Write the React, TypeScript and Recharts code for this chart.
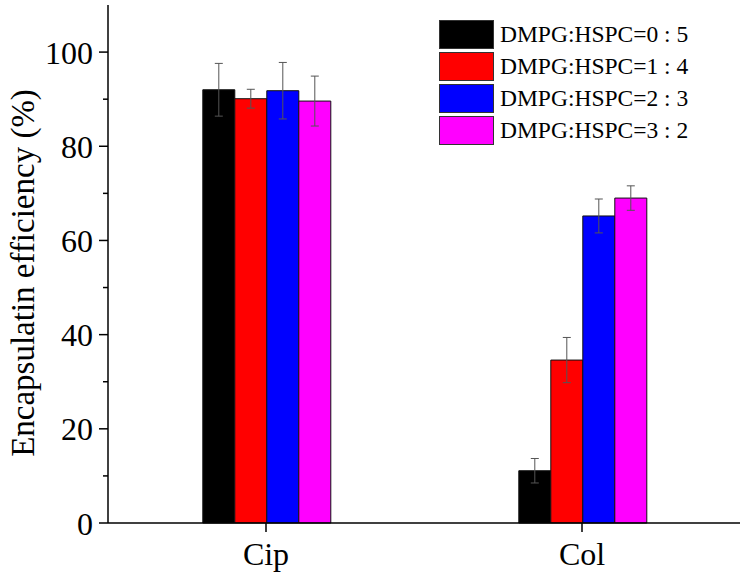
import { BarChart, Bar, XAxis, YAxis, ErrorBar } from "recharts";

const categories = ["Cip", "Col"];
const seriesNames = [
  "DMPG:HSPC=0 : 5",
  "DMPG:HSPC=1 : 4",
  "DMPG:HSPC=2 : 3",
  "DMPG:HSPC=3 : 2",
];
const seriesColors = ["#000000", "#ff0000", "#0000ff", "#ff00ff"];

// values per series: [Cip, Col]
const ratio05 = [92.0, 11.1];
const ratio14 = [90.1, 34.6];
const ratio23 = [91.8, 65.2];
const ratio32 = [89.6, 69.0];

const err05 = [5.6, 2.6];
const err14 = [2.0, 4.8];
const err23 = [6.0, 3.6];
const err32 = [5.3, 2.6];

const yTicks = [0, 10, 20, 30, 40, 50, 60, 70, 80, 90, 100];

const values = [ratio05, ratio14, ratio23, ratio32];
const errors = [err05, err14, err23, err32];

const data = categories.map((name, i) => {
  const row: Record<string, string | number> = { name };
  values.forEach((v, s) => {
    row[`s${s}`] = v[i];
    row[`e${s}`] = errors[s][i];
  });
  return row;
});

const FONT = "Liberation Serif, Times New Roman, serif";

const YTick = (props: any) => {
  const { x, y, payload } = props;
  const major = payload.value % 20 === 0;
  return (
    <g>
      <line
        x1={x + 10}
        x2={x + 10 - (major ? 9 : 5)}
        y1={y}
        y2={y}
        stroke="#000"
        strokeWidth={1.5}
      />
      {major && (
        <text
          x={x - 5}
          y={y}
          dy="0.36em"
          textAnchor="end"
          fill="#000"
          style={{ fontSize: 32, fontFamily: FONT }}
        >
          {payload.value}
        </text>
      )}
    </g>
  );
};

const YLabel = (props: any) => {
  const { viewBox } = props;
  const cx = 23;
  const cy = viewBox.y + viewBox.height / 2 + 9;
  return (
    <text
      x={cx}
      y={cy}
      transform={`rotate(-90, ${cx}, ${cy})`}
      textAnchor="middle"
      dominantBaseline="central"
      fill="#000"
      style={{ fontSize: 33, fontFamily: FONT }}
    >
      Encapsulatin efficiency (%)
    </text>
  );
};

const ChartLegend = () => (
  <div
    style={{
      position: "absolute",
      left: 439,
      top: 18,
      fontFamily: FONT,
    }}
  >
    {seriesNames.map((n, i) => (
      <div
        key={n}
        style={{ display: "flex", alignItems: "center", height: 32 }}
      >
        <div
          style={{
            width: 53,
            height: 27,
            background: seriesColors[i],
            border: "1px solid #333",
          }}
        />
        <span style={{ marginLeft: 6, fontSize: 23.5, color: "#000" }}>
          {n}
        </span>
      </div>
    ))}
  </div>
);

export default function App() {
  return (
    <div
      style={{
        position: "absolute",
        left: 0,
        top: 0,
        width: 748,
        height: 577,
        background: "#fff",
      }}
    >
      <BarChart
        width={748}
        height={577}
        data={data}
        margin={{ top: 5, right: 8, left: 0, bottom: 0 }}
        barCategoryGap="30%"
        barGap={0}
      >
        <XAxis
          dataKey="name"
          height={54}
          tickSize={9}
          tickMargin={10}
          axisLine={{ stroke: "#000", strokeWidth: 1.5 }}
          tickLine={{ stroke: "#000", strokeWidth: 1.5 }}
          tick={{ fontSize: 32, fill: "#000", fontFamily: FONT }}
        />
        <YAxis
          width={108}
          domain={[0, 110]}
          ticks={yTicks}
          interval={0}
          tickLine={false}
          tickSize={8}
          axisLine={{ stroke: "#000", strokeWidth: 1.5 }}
          tick={<YTick />}
          label={<YLabel />}
        />
        {seriesNames.map((n, s) => (
          <Bar
            key={n}
            dataKey={`s${s}`}
            name={n}
            fill={seriesColors[s]}
            stroke="#111"
            strokeWidth={1}
            isAnimationActive={false}
          >
            <ErrorBar
              dataKey={`e${s}`}
              width={4}
              stroke="#555"
              strokeWidth={1}
            />
          </Bar>
        ))}
      </BarChart>
      <ChartLegend />
    </div>
  );
}
